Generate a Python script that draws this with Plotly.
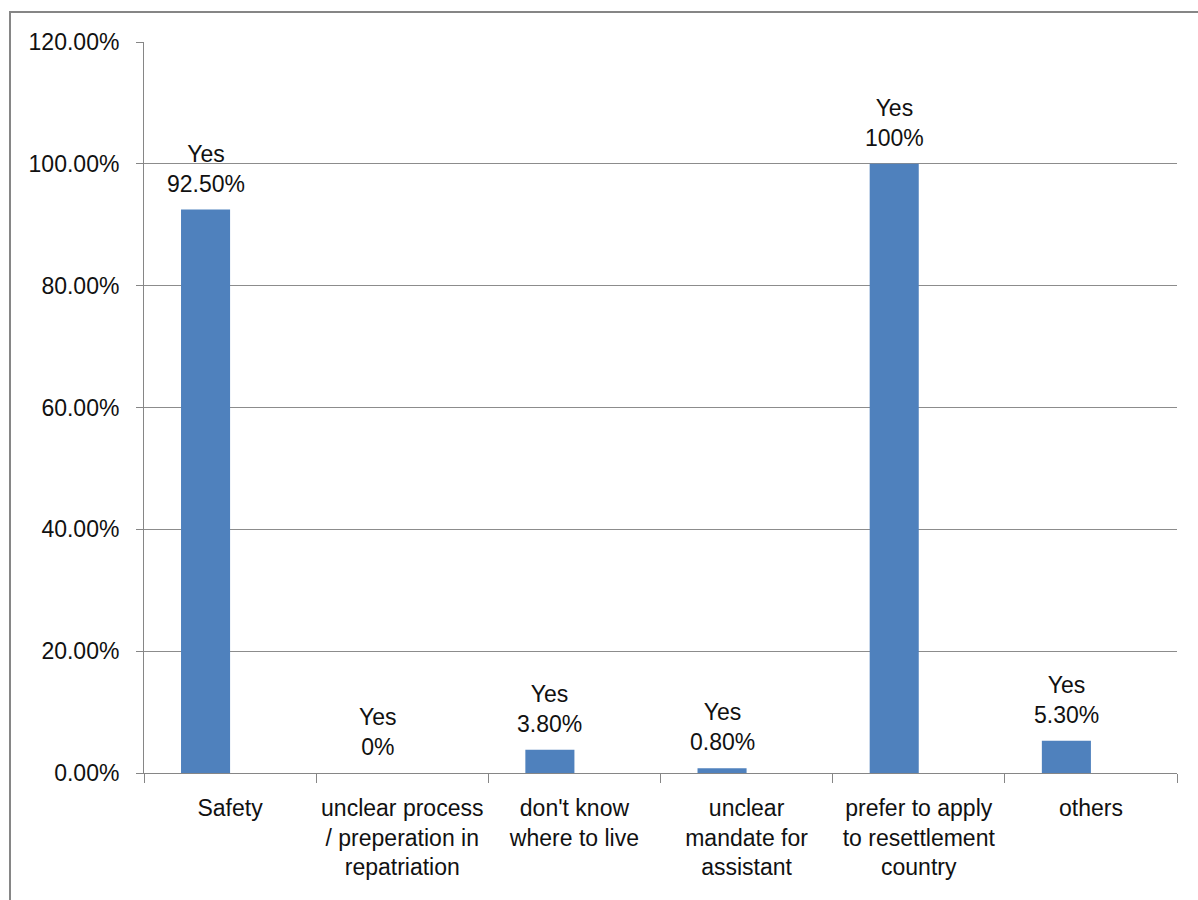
import plotly.graph_objects as go

categories = ["Safety",
              "unclear process<br>/ preperation in<br>repatriation",
              "don't know<br>where to live",
              "unclear<br>mandate for<br>assistant",
              "prefer to apply<br>to resettlement<br>country",
              "others"]
series_name = "Yes"
values = [0.925, 0.0, 0.038, 0.008, 1.0, 0.053]
value_labels = ["92.50%", "0%", "3.80%", "0.80%", "100%", "5.30%"]
y_ticks = [0, 0.2, 0.4, 0.6, 0.8, 1.0, 1.2]

W, H = 1198, 900
L, R, T, B = 144, 21, 42, 127
pw, ph = W - L - R, H - T - B

FONT = "Liberation Sans"
FS = 23
BAR_W = 0.285

fig = go.Figure()
fig.add_trace(go.Bar(
    x=list(range(len(categories))), y=values, name=series_name,
    width=BAR_W, offset=-BAR_W,
    marker=dict(color="#4F81BD", line=dict(width=0)),
))

for i, (v, lab) in enumerate(zip(values, value_labels)):
    fig.add_annotation(x=i - BAR_W / 2, y=v, xref="x", yref="y",
                       text=f"{series_name}<br>{lab}", showarrow=False,
                       yanchor="bottom", xanchor="center", yshift=11,
                       font=dict(family=FONT, size=FS, color="#111111"))

def px_x(p):
    return (p - L) / pw

def px_y(p):
    return (H - B - p) / ph

fig.add_shape(type="rect", xref="paper", yref="paper",
              x0=px_x(10), x1=px_x(1205), y0=px_y(910), y1=px_y(12),
              line=dict(color="#868686", width=2), fillcolor="rgba(0,0,0,0)",
              layer="above")

fig.update_layout(
    width=W, height=H,
    margin=dict(l=L, r=R, t=T, b=B, pad=0),
    paper_bgcolor="white", plot_bgcolor="white",
    showlegend=False,
    font=dict(family=FONT, size=FS, color="#111111"),
    xaxis=dict(
        tickmode="array", tickvals=list(range(len(categories))), ticktext=categories,
        range=[-0.5, len(categories) - 0.5],
        showgrid=False, showline=True, linecolor="#868686", linewidth=1,
        ticks="", zeroline=False, ticklabelstandoff=14,
        tickfont=dict(family=FONT, size=FS, color="#111111"),
        minor=dict(tickvals=[i - 0.5 for i in range(len(categories) + 1)],
                   ticks="outside", ticklen=9, tickcolor="#868686", showgrid=False),
    ),
    yaxis=dict(
        range=[0, 1.2], tickvals=y_ticks, tickformat=".2%",
        showgrid=True, gridcolor="#8c8c8c", gridwidth=1,
        showline=True, linecolor="#868686", linewidth=1,
        ticks="outside", ticklen=7, tickcolor="#868686",
        zeroline=False, ticklabelstandoff=12,
        tickfont=dict(family=FONT, size=FS, color="#111111"),
    ),
)

fig.write_html("out.html")
